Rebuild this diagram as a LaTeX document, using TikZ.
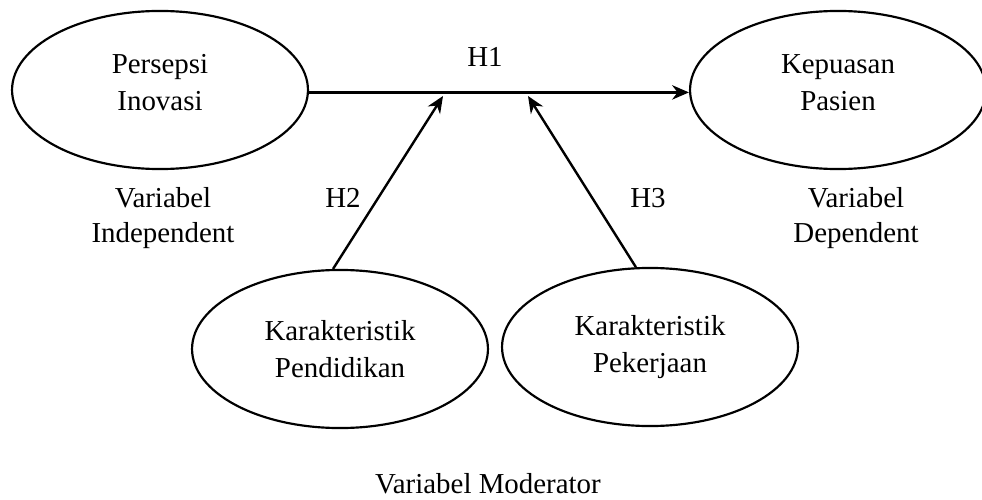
\documentclass[tikz,border=0pt]{standalone}
\usepackage{fontspec}
\setmainfont{Liberation Serif}
\usetikzlibrary{shapes.geometric,arrows.meta}

\begin{document}
\begin{tikzpicture}[x=0.415pt,y=-0.415pt,
    var/.style={draw,ellipse,line width=0.9pt,minimum width=122.8pt,minimum height=65.6pt,
        inner sep=0pt,align=center,font=\fontsize{12}{15.4}\selectfont},
    lbl/.style={align=center,anchor=base,inner sep=0pt,font=\fontsize{12}{14.5}\selectfont},
    hyp/.style={line width=1pt,-{Stealth[length=7pt,width=6pt]}}]
    \useasboundingbox (0,0) rectangle (982,500);

    % variables
    \node[var,text depth=6.5pt] (persepsi) at (160,90) {Persepsi\\Inovasi};
    \node[var,text depth=6.5pt] (kepuasan) at (838,90) {Kepuasan\\Pasien};
    \node[var] (pendidikan) at (340,349) {Karakteristik\\Pendidikan};
    \node[var] (pekerjaan) at (650,347) {Karakteristik\\Pekerjaan};

    % points on the H1 line
    \coordinate (tipH2) at (443,96);
    \coordinate (tipH3) at (528,96);

    % hypotheses
    \draw[hyp] ([yshift=-1pt]persepsi.east) -- ([yshift=-1pt]kepuasan.west);
    \draw[hyp] (pendidikan.95) -- (tipH2);
    \draw[hyp] (pekerjaan.100) -- (tipH3);

    \node[lbl] (h1) at (485,67) {H1};
    \node[lbl] (h2) at (343,207) {H2};
    \node[lbl] (h3) at (648,207) {H3};

    \node[lbl] (indep) at (163,242) {Variabel\\Independent};
    \node[lbl] (dep) at (856,242) {Variabel\\Dependent};
    \node[lbl] (mod) at (488,493) {Variabel Moderator};
\end{tikzpicture}
\end{document}
